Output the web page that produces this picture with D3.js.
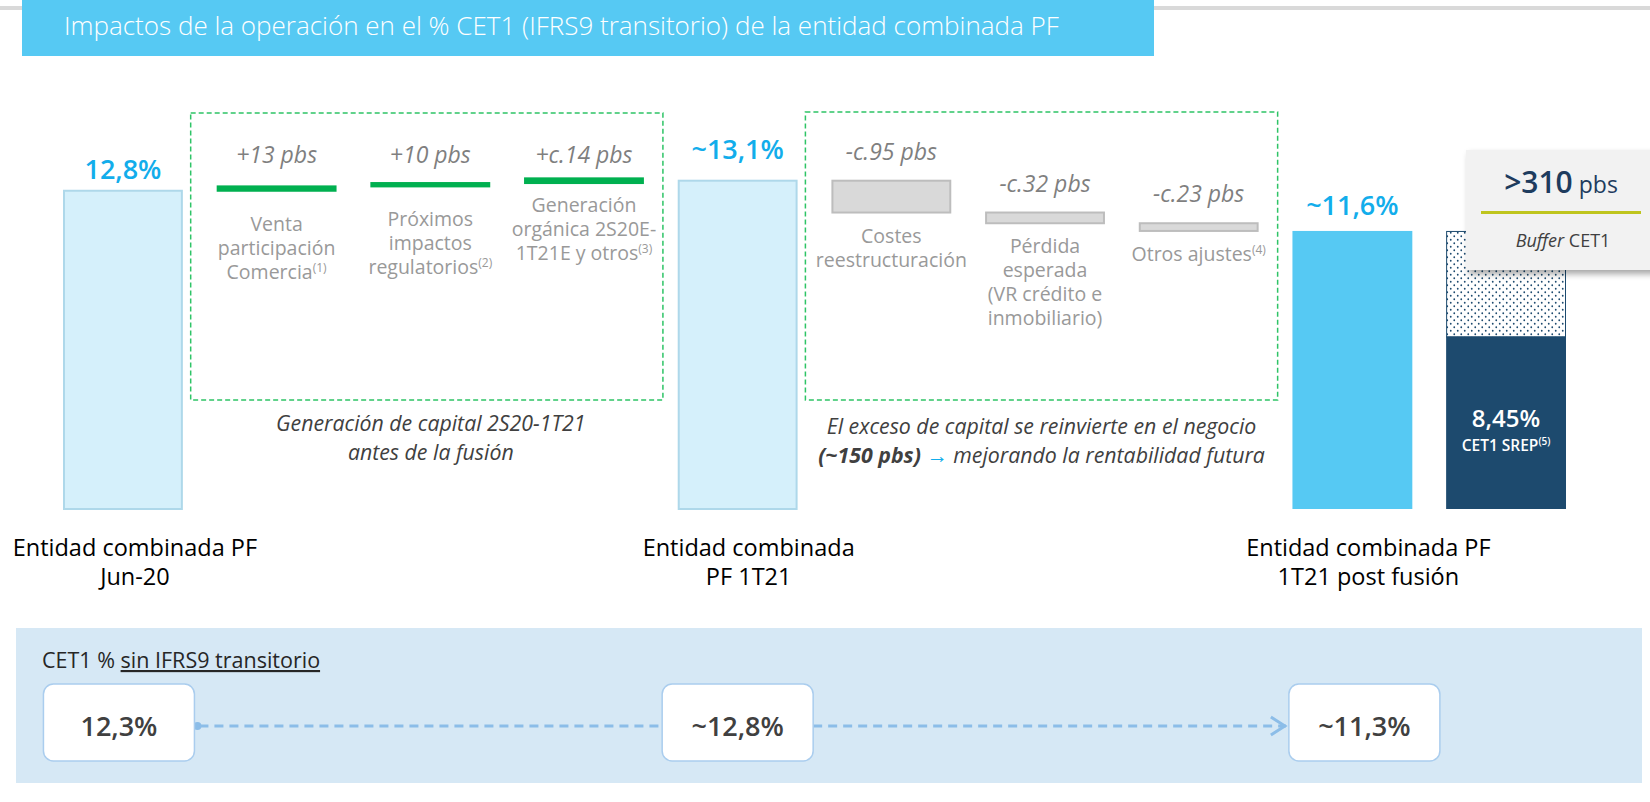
<!DOCTYPE html>
<html>
<head>
<meta charset="utf-8">
<script src="https://cdn.jsdelivr.net/npm/d3@7"></script>
<style>
  body { margin: 0; background: #fff; }
  svg { display: block; font-family: "Open Sans", "Noto Sans", sans-serif; }
</style>
</head>
<body>
<div class="chart"></div>
<script>
// ---- data ----
const title = 'Impactos de la operación en el % CET1 (IFRS9 transitorio) de la entidad combinada PF';

const columns = ['jun20', 'venta', 'proximos', 'organica', 'pf1t21', 'costes', 'perdida', 'otros', 'post', 'srep'];

const mainKeys = ['jun20', 'pf1t21', 'post'];
const mainValues = [12.8, 13.1, 11.6];
const mainLabels = ['12,8%', '~13,1%', '~11,6%'];
const mainCategories = [['Entidad combinada PF', 'Jun-20'], ['Entidad combinada', 'PF 1T21'], ['Entidad combinada PF', '1T21 post fusión']];

const genKeys = ['venta', 'proximos', 'organica'];
const genValues = [13, 10, 14]; // pbs
const genLabels = ['+13 pbs', '+10 pbs', '+c.14 pbs'];
const genDesc = [['Venta', 'participación', 'Comercia'], ['Próximos', 'impactos', 'regulatorios'], ['Generación', 'orgánica 2S20E-', '1T21E y otros']];
const genNotes = ['(1)', '(2)', '(3)'];

const costKeys = ['costes', 'perdida', 'otros'];
const costValues = [-95, -32, -23]; // pbs
const costLabels = ['-c.95 pbs', '-c.32 pbs', '-c.23 pbs'];
const costDesc = [['Costes', 'reestructuración'], ['Pérdida', 'esperada', '(VR crédito e', 'inmobiliario)'], ['Otros ajustes']];
const costNotes = ['', '', '(4)'];

const srepValue = 8.45;
const srepLabel = '8,45%';
const bufferLabel = ['>310', ' pbs'];

const flTitle = ['CET1 % ', 'sin IFRS9 transitorio'];
const flLabels = ['12,3%', '~12,8%', '~11,3%'];

// ---- layout ----
const W = 1650, H = 802;
const blue = '#12ADEB', navy = '#1D4A6E';

const svg = d3.select('.chart').append('svg')
    .attr('width', W)
    .attr('height', H);

const defs = svg.append('defs');
const dots = defs.append('pattern')
    .attr('id', 'dots')
    .attr('patternUnits', 'userSpaceOnUse')
    .attr('width', 7).attr('height', 7);
dots.append('rect').attr('width', 7).attr('height', 7).attr('fill', '#fff');
dots.append('circle').attr('cx', 1.75).attr('cy', 1.75).attr('r', 0.9).attr('fill', navy);
dots.append('circle').attr('cx', 5.25).attr('cy', 5.25).attr('r', 0.9).attr('fill', navy);

const shadow = defs.append('filter').attr('id', 'shadow')
    .attr('x', '-10%').attr('y', '-10%').attr('width', '130%').attr('height', '140%');
shadow.append('feDropShadow')
    .attr('dx', 3).attr('dy', 4).attr('stdDeviation', 3)
    .attr('flood-color', '#000').attr('flood-opacity', 0.35);

// truncated value axis: bars start at 3% so the steps are readable
const x = d3.scaleBand().domain(columns).range([63, 1566]).paddingInner(0.22);
const y = d3.scaleLinear().domain([3.3, 13.1]).range([509, 180.7]);
const bw = x.bandwidth();
const cx = k => x(k) + bw / 2;
const base = y.range()[0];

// top rule and title
svg.append('rect').attr('x', 0).attr('y', 6).attr('width', W).attr('height', 4).attr('fill', '#d9d9d9');
svg.append('rect').attr('x', 22).attr('y', 0).attr('width', 1132).attr('height', 56).attr('fill', '#56C9F3');
svg.append('text')
    .attr('x', 64).attr('y', 35)
    .attr('fill', '#fff')
    .attr('font-size', 26)
    .attr('font-weight', 300)
    .text(title);

// dashed boxes around steps
const boxes = [[genKeys, 113], [costKeys, 112]];
boxes.forEach(([keys, top]) => {
    const x0 = x(keys[0]) - 26, x1 = x(keys[keys.length - 1]) + bw + 19;
    svg.append('rect')
        .attr('x', x0).attr('y', top)
        .attr('width', x1 - x0).attr('height', 400 - top)
        .attr('fill', 'none')
        .attr('stroke', '#2EC466')
        .attr('stroke-width', 1.5)
        .attr('stroke-dasharray', '5 3');
});

// main bars
const mainStyle = [
    { fill: '#D5F0FB', stroke: '#AED8EA' },
    { fill: '#D5F0FB', stroke: '#AED8EA' },
    { fill: '#56C9F3', stroke: 'none' }
];
const labelGap = [12, 22, 16];
svg.append('g')
    .selectAll('rect')
    .data(mainKeys)
    .join('rect')
        .attr('x', (d, i) => x(d) + (mainStyle[i].stroke === 'none' ? 0 : 1))
        .attr('y', (d, i) => y(mainValues[i]))
        .attr('width', (d, i) => bw - (mainStyle[i].stroke === 'none' ? 0 : 2))
        .attr('height', (d, i) => base - y(mainValues[i]))
        .attr('fill', (d, i) => mainStyle[i].fill)
        .attr('stroke', (d, i) => mainStyle[i].stroke)
        .attr('stroke-width', 2);

svg.append('g')
    .selectAll('text')
    .data(mainKeys)
    .join('text')
        .attr('x', d => cx(d))
        .attr('y', (d, i) => y(mainValues[i]) - labelGap[i])
        .attr('text-anchor', 'middle')
        .attr('fill', blue)
        .attr('font-size', 27)
        .attr('font-weight', 600)
        .text((d, i) => mainLabels[i]);

// category labels
const catDx = [12, 11, 16];
mainKeys.forEach((k, i) => {
    const t = svg.append('text')
        .attr('text-anchor', 'middle')
        .attr('font-size', 23.5)
        .attr('fill', '#000');
    mainCategories[i].forEach((line, j) => {
        t.append('tspan').attr('x', cx(k) + catDx[i]).attr('y', 556 + j * 29).text(line);
    });
});

// srep bar: buffer dotted + requirement
const sTop = y(mainValues[2]);
svg.append('rect')
    .attr('x', x('srep') + 0.5).attr('y', sTop + 0.5)
    .attr('width', bw - 1).attr('height', y(srepValue) - sTop)
    .attr('fill', 'url(#dots)')
    .attr('stroke', navy).attr('stroke-width', 1);
svg.append('rect')
    .attr('x', x('srep')).attr('y', y(srepValue))
    .attr('width', bw).attr('height', base - y(srepValue))
    .attr('fill', navy);
svg.append('text')
    .attr('x', cx('srep')).attr('y', 427)
    .attr('text-anchor', 'middle')
    .attr('fill', '#fff').attr('font-size', 24).attr('font-weight', 600)
    .text(srepLabel);
const srepTxt = svg.append('text')
    .attr('x', cx('srep')).attr('y', 451)
    .attr('text-anchor', 'middle')
    .attr('fill', '#fff').attr('font-size', 15.5).attr('font-weight', 600);
srepTxt.append('tspan').text('CET1 SREP');
srepTxt.append('tspan').attr('font-size', 10).attr('dy', -6).text('(5)');

// generation steps (waterfall up) and cost steps (waterfall down)
let level = mainValues[0];
const genSteps = genKeys.map((k, i) => {
    const s = level;
    level += genValues[i] / 100;
    return { k, s, e: level, i };
});
level = mainValues[1];
const costSteps = costKeys.map((k, i) => {
    const s = level;
    level += costValues[i] / 100;
    return { k, s, e: level, i };
});

svg.append('g')
    .selectAll('rect')
    .data(genSteps)
    .join('rect')
        .attr('x', d => x(d.k))
        .attr('y', d => y(d.e) - 1)
        .attr('width', bw)
        .attr('height', d => y(d.s) - y(d.e) + 2)
        .attr('fill', '#00B050');

svg.append('g')
    .selectAll('rect')
    .data(costSteps)
    .join('rect')
        .attr('x', d => x(d.k) + 1)
        .attr('y', d => y(d.s))
        .attr('width', bw - 2)
        .attr('height', d => y(d.e) - y(d.s))
        .attr('fill', '#D9D9D9')
        .attr('stroke', '#BDBDBD')
        .attr('stroke-width', 2);

// step value labels
svg.append('g')
    .selectAll('text')
    .data(genSteps)
    .join('text')
        .attr('x', d => cx(d.k))
        .attr('y', 163)
        .attr('text-anchor', 'middle')
        .attr('font-size', 23).attr('font-style', 'italic')
        .attr('fill', '#7F7F7F')
        .text(d => genLabels[d.i]);

svg.append('g')
    .selectAll('text')
    .data(costSteps)
    .join('text')
        .attr('x', d => cx(d.k))
        .attr('y', d => y(d.s) - 21)
        .attr('text-anchor', 'middle')
        .attr('font-size', 23).attr('font-style', 'italic')
        .attr('fill', '#7F7F7F')
        .text(d => costLabels[d.i]);

// step descriptions
const descDy = [40, 40, 29];
function desc(k, lines, note, top) {
    const t = svg.append('text')
        .attr('text-anchor', 'middle')
        .attr('font-size', 19.5)
        .attr('fill', '#999999');
    lines.forEach((line, j) => {
        t.append('tspan').attr('x', cx(k)).attr('y', top + j * 24).text(line);
        if (j === lines.length - 1 && note) {
            t.append('tspan').attr('font-size', 12).attr('dy', -7).text(note);
        }
    });
}
genSteps.forEach(d => desc(d.k, genDesc[d.i], genNotes[d.i], y(d.s) + descDy[d.i]));
costSteps.forEach(d => desc(d.k, costDesc[d.i], costNotes[d.i], y(d.e) + 30));

// captions under the boxes
const capSize = 21.3;
const cap1X = (x(genKeys[0]) - 26 + x(genKeys[2]) + bw + 19) / 2 + 4;
const cap2X = (x(costKeys[0]) - 26 + x(costKeys[2]) + bw + 19) / 2;
const cap1 = svg.append('text').attr('text-anchor', 'middle').attr('font-size', capSize)
    .attr('font-style', 'italic').attr('fill', '#404040');
cap1.append('tspan').attr('x', cap1X).attr('y', 431).text('Generación de capital 2S20-1T21');
cap1.append('tspan').attr('x', cap1X).attr('y', 460).text('antes de la fusión');

const cap2 = svg.append('text').attr('text-anchor', 'middle').attr('font-size', capSize)
    .attr('font-style', 'italic').attr('fill', '#404040');
cap2.append('tspan').attr('x', cap2X).attr('y', 434).text('El exceso de capital se reinvierte en el negocio');
const cap2b = svg.append('text').attr('text-anchor', 'middle').attr('font-size', capSize)
    .attr('font-style', 'italic').attr('fill', '#404040')
    .attr('x', cap2X).attr('y', 463);
cap2b.append('tspan').attr('font-weight', 700).text('(~150 pbs) ');
cap2b.append('tspan').attr('fill', blue).attr('font-style', 'normal')
    .attr('font-weight', 700).text('→');
cap2b.append('tspan').text(' mejorando la rentabilidad futura');

// buffer callout
const bx = 1466, by = 150;
svg.append('rect')
    .attr('x', bx).attr('y', by).attr('width', 200).attr('height', 120)
    .attr('fill', '#F2F2F2')
    .attr('filter', 'url(#shadow)');
const bt = svg.append('text')
    .attr('x', 1561).attr('y', 193)
    .attr('text-anchor', 'middle')
    .attr('fill', '#1E3C5E');
bt.append('tspan').attr('font-size', 30).attr('font-weight', 600).text(bufferLabel[0]);
bt.append('tspan').attr('font-size', 23).text(bufferLabel[1]);
svg.append('rect')
    .attr('x', 1481).attr('y', 211).attr('width', 160).attr('height', 3)
    .attr('fill', '#BFC51E');
const bl = svg.append('text')
    .attr('x', 1563).attr('y', 247)
    .attr('text-anchor', 'middle')
    .attr('font-size', 18).attr('fill', '#404040');
bl.append('tspan').attr('font-style', 'italic').text('Buffer');
bl.append('tspan').text(' CET1');

// fully loaded panel
svg.append('rect')
    .attr('x', 16).attr('y', 628).attr('width', 1626).attr('height', 155)
    .attr('fill', '#D6E8F5');
const ft = svg.append('text')
    .attr('x', 42).attr('y', 668)
    .attr('font-size', 21.5).attr('fill', '#262626');
ft.append('tspan').text(flTitle[0]);
ft.append('tspan').attr('text-decoration', 'underline').text(flTitle[1]);

const flDx = [-4, 0, 12];
const flBoxW = 151, flBoxH = 77, flTop = 684, flMid = 726;
const flX = mainKeys.map((k, i) => cx(k) + flDx[i]);

svg.append('circle')
    .attr('cx', flX[0] + flBoxW / 2 + 3).attr('cy', flMid).attr('r', 4)
    .attr('fill', '#8CBDE8');
const conn = [
    [flX[0] + flBoxW / 2 + 5, flX[1] - flBoxW / 2],
    [flX[1] + flBoxW / 2, flX[2] - flBoxW / 2 - 3]
];
svg.append('g')
    .selectAll('line')
    .data(conn)
    .join('line')
        .attr('x1', d => d[0]).attr('x2', d => d[1])
        .attr('y1', flMid).attr('y2', flMid)
        .attr('stroke', '#8CBDE8')
        .attr('stroke-width', 3)
        .attr('stroke-dasharray', '9 6');
const ax = flX[2] - flBoxW / 2 - 4;
svg.append('path')
    .attr('d', `M${ax - 14},${flMid - 9}L${ax},${flMid}L${ax - 14},${flMid + 9}`)
    .attr('fill', 'none')
    .attr('stroke', '#8CBDE8')
    .attr('stroke-width', 3);

svg.append('g')
    .selectAll('rect')
    .data(flLabels)
    .join('rect')
        .attr('x', (d, i) => flX[i] - flBoxW / 2)
        .attr('y', flTop)
        .attr('width', flBoxW).attr('height', flBoxH)
        .attr('rx', 10)
        .attr('fill', '#fff')
        .attr('stroke', '#AACDEE')
        .attr('stroke-width', 1.5);

svg.append('g')
    .selectAll('text')
    .data(flLabels)
    .join('text')
        .attr('x', (d, i) => flX[i])
        .attr('y', flMid + 10)
        .attr('text-anchor', 'middle')
        .attr('font-size', 27)
        .attr('font-weight', 600)
        .attr('fill', '#404040')
        .text(d => d);
</script>
</body>
</html>
